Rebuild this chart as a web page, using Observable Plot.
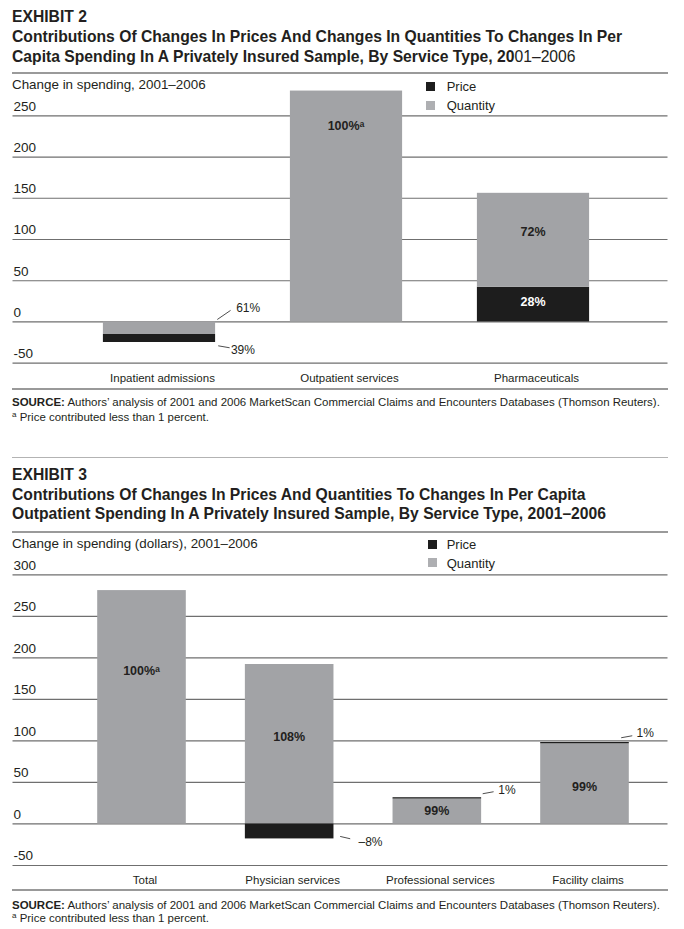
<!DOCTYPE html>
<html>
<head>
<meta charset="utf-8">
<script src="https://cdn.jsdelivr.net/npm/d3@7"></script>
<script src="https://cdn.jsdelivr.net/npm/@observablehq/plot@0.6"></script>
<style>
  body { margin: 0; background: #fff; }
  #page { position: relative; width: 684px; height: 929px; overflow: hidden;
          font-family: "Liberation Sans", Arial, sans-serif; color: #231f20; }
  .abs { position: absolute; white-space: nowrap; }
  .hr { position: absolute; left: 12px; width: 656px; }
  .sq { position: absolute; width: 9px; height: 9px; }
</style>
</head>
<body>
<div id="page"></div>
<script>
// ---------------- DATA ----------------
const ex2Categories = ["Inpatient admissions", "Outpatient services", "Pharmaceuticals"];
const ex2Price      = [-9.7, 0, 42];
const ex2Quantity   = [-15.2, 280, 114];
const ex2StackOrder = [["Quantity", "Price"], ["Quantity", "Price"], ["Price", "Quantity"]];
const ex2YTicks     = [-50, 0, 50, 100, 150, 200, 250];
const ex2InLabelCat    = [1, 2, 2];
const ex2InLabelText   = ["100%ᵃ", "72%", "28%"];
const ex2InLabelY      = [236.6, 108, 24];
const ex2InLabelSeries = ["Quantity", "Quantity", "Price"];
const ex2CalloutText = ["61%", "39%"];
const ex2CalloutX1 = [0.309, 0.314], ex2CalloutY1 = [3.0, -28.9];
const ex2CalloutX2 = [0.380, 0.375], ex2CalloutY2 = [14.0, -31.3];
const ex2CalloutTX = [0.410, 0.382], ex2CalloutTY = [17.2, -33.8];

const ex3Categories = ["Total", "Physician services", "Professional services", "Facility claims"];
const ex3Price      = [0, -18, 1.6, 1.6];
const ex3Quantity   = [281, 192, 30, 96.5];
const ex3StackOrder = [["Quantity", "Price"], ["Quantity", "Price"], ["Quantity", "Price"], ["Quantity", "Price"]];
const ex3YTicks     = [-50, 0, 50, 100, 150, 200, 250, 300];
const ex3InLabelCat    = [0, 1, 2, 3];
const ex3InLabelText   = ["100%ᵃ", "108%", "99%", "99%"];
const ex3InLabelY      = [183, 104.5, 15, 44.3];
const ex3InLabelSeries = ["Quantity", "Quantity", "Quantity", "Quantity"];
const ex3CalloutText = ["–8%", "1%", "1%"];
const ex3CalloutX1 = [1.342, 2.307, 3.245], ex3CalloutY1 = [-15.0, 36.4, 103.8];
const ex3CalloutX2 = [1.410, 2.381, 3.320], ex3CalloutY2 = [-17.8, 38.8, 106.2];
const ex3CalloutTX = [1.466, 2.413, 3.349], ex3CalloutTY = [-21.9, 40.3, 109.3];

const seriesNames = ["Price", "Quantity"];

// ---------------- STYLE ----------------
const INK = "#231f20";
const BLACK = "#1d1d1d";
const GRAY = "#a2a3a6";
const FONT = '"Liberation Sans", Arial, sans-serif';
const page = document.getElementById("page");

function measure(html, size, weight) {
  const s = document.createElement("span");
  s.style.cssText = `position:absolute;visibility:hidden;white-space:nowrap;font-size:${size}px;font-weight:${weight};`;
  s.innerHTML = html;
  page.appendChild(s);
  const w = s.getBoundingClientRect().width;
  s.remove();
  return w;
}
function addText(html, left, cy, size, weight) {
  const d = document.createElement("div");
  d.className = "abs";
  const lh = Math.round(size * 1.3);
  d.style.left = left + "px";
  d.style.top = (cy - lh / 2) + "px";
  d.style.fontSize = size + "px";
  d.style.lineHeight = lh + "px";
  d.style.fontWeight = weight || 400;
  d.innerHTML = html;
  page.appendChild(d);
  return d;
}
function addRule(y, h, color) {
  const d = document.createElement("div");
  d.className = "hr";
  d.style.top = (y - h / 2) + "px";
  d.style.height = h + "px";
  d.style.background = color;
  page.appendChild(d);
}
function addSquare(x, cy, color) {
  const d = document.createElement("div");
  d.className = "sq";
  d.style.left = x + "px";
  d.style.top = (cy - 4.5) + "px";
  d.style.background = color;
  page.appendChild(d);
}

// ---------------- TEXT SIZES ----------------
const title2a = "Contributions Of Changes In Prices And Changes In Quantities To Changes In Per";
const title2b = 'Capita Spending In A Privately Insured Sample, By Service Type, 20<span style="font-weight:400">01–2006</span>';
const title3a = "Contributions Of Changes In Prices And Quantities To Changes In Per Capita";
const title3b = "Outpatient Spending In A Privately Insured Sample, By Service Type, 2001–2006";
const sourceHtml = "<b>SOURCE:</b> Authors’ analysis of 2001 and 2006 MarketScan Commercial Claims and Encounters Databases (Thomson Reuters).";
const noteHtml = '<span style="font-size:0.7em;position:relative;top:-0.45em">a</span> Price contributed less than 1 percent.';

const titleSize = 15 * 611 / measure(title2a, 15, 700);
const sourceSize = 11 * 649 / measure(sourceHtml, 11, 400);

// ---------------- CHART ----------------
function chart(o) {
  const segs = [];
  o.cats.forEach((c, i) => {
    let pos = 0, neg = 0;
    for (const s of o.order[i]) {
      const v = s === "Price" ? o.price[i] : o.quantity[i];
      if (!v) continue;
      let y1, y2;
      if (v >= 0) { y1 = pos; pos += v; y2 = pos; }
      else { y1 = neg; neg += v; y2 = neg; }
      segs.push({i, series: s, y1, y2});
    }
  });
  const inLabels = o.inCat.map((c, k) => ({i: c, text: o.inText[k], y: o.inY[k], series: o.inSeries[k]}));
  const callouts = o.cText.map((t, k) => ({text: t, x1: o.cx1[k], y1: o.cy1[k], x2: o.cx2[k], y2: o.cy2[k], tx: o.ctx[k], ty: o.cty[k]}));
  const half = 0.3;
  const svg = Plot.plot({
    width: 684,
    height: o.height,
    marginLeft: 12.5,
    marginRight: 16.5,
    marginTop: 41.3,
    marginBottom: o.marginBottom,
    x: {domain: [0, o.cats.length - 1], range: o.rangeX},
    y: {domain: [o.ticks[0], o.ticks[o.ticks.length - 1]], axis: null},
    color: {domain: seriesNames, range: [BLACK, GRAY]},
    style: {fontFamily: FONT, color: INK, background: "none", overflow: "visible"},
    marks: [
      Plot.ruleY(o.ticks, {stroke: "#6f6f6f", strokeWidth: 1.2}),
      Plot.text(o.ticks, {y: d => d, text: d => d < 0 ? "-" + Math.abs(d) : String(d),
        frameAnchor: "left", textAnchor: "start", dx: 0.5, dy: -9.5, fontSize: 13.5, fill: INK}),
      Plot.rectY(segs, {x1: d => d.i - half, x2: d => d.i + half, y1: "y1", y2: "y2", fill: "series"}),
      Plot.axisX({ticks: d3.range(o.cats.length), tickFormat: i => o.cats[i], tickSize: 0,
        tickPadding: 10.5, fontSize: 11.5, dx: 3}),
      Plot.text(inLabels, {x: "i", y: "y", text: "text", dx: o.inDx, fontSize: 12.5, fontWeight: 700,
        fill: d => d.series === "Price" ? "#ffffff" : INK}),
      Plot.link(callouts, {x1: "x1", y1: "y1", x2: "x2", y2: "y2", stroke: "#3a3a3a", strokeWidth: 0.9}),
      Plot.text(callouts, {x: "tx", y: "ty", text: "text", textAnchor: "start", fontSize: 12, fill: INK})
    ]
  });
  svg.style.position = "absolute";
  svg.style.left = "0px";
  svg.style.top = o.top + "px";
  page.appendChild(svg);
}

// ---------------- EXHIBIT 2 ----------------
addText("EXHIBIT 2", 12, 17, titleSize, 700);
addText(title2a, 12, 37, titleSize, 700);
addText(title2b, 12, 56.5, titleSize, 700);

chart({
  cats: ex2Categories, price: ex2Price, quantity: ex2Quantity, order: ex2StackOrder,
  ticks: ex2YTicks, top: 74, height: 314, marginBottom: 25.3, rangeX: [159, 533],
  inCat: ex2InLabelCat, inText: ex2InLabelText, inY: ex2InLabelY, inSeries: ex2InLabelSeries,
  inDx: [4.5, 3, 5],
  cText: ex2CalloutText, cx1: ex2CalloutX1, cy1: ex2CalloutY1, cx2: ex2CalloutX2, cy2: ex2CalloutY2,
  ctx: ex2CalloutTX, cty: ex2CalloutTY
});

addRule(73, 2, "#9a9a9a");
addRule(389, 1.6, "#999999");
addText("Change in spending, 2001–2006", 12, 84, 13.4, 400);
addSquare(426, 86.6, BLACK);
addSquare(426, 105.3, "#aeafb2");
addText("Price", 446.7, 86.6, 13, 400);
addText("Quantity", 446.7, 105.5, 13, 400);
addText(sourceHtml, 12, 402, sourceSize, 400);
addText(noteHtml, 12, 417, sourceSize, 400);

addRule(457, 1, "#b3b3b3");

// ---------------- EXHIBIT 3 ----------------
addText("EXHIBIT 3", 12, 475, titleSize, 700);
addText(title3a, 12, 494.5, titleSize, 700);
addText(title3b, 12, 514, titleSize, 700);

chart({
  cats: ex3Categories, price: ex3Price, quantity: ex3Quantity, order: ex3StackOrder,
  ticks: ex3YTicks, top: 533, height: 356, marginBottom: 24, rangeX: [141.5, 584.5],
  inCat: ex3InLabelCat, inText: ex3InLabelText, inY: ex3InLabelY, inSeries: ex3InLabelSeries,
  inDx: [0, 8, 2, 4],
  cText: ex3CalloutText, cx1: ex3CalloutX1, cy1: ex3CalloutY1, cx2: ex3CalloutX2, cy2: ex3CalloutY2,
  ctx: ex3CalloutTX, cty: ex3CalloutTY
});

addRule(532, 2, "#9a9a9a");
addRule(890, 1.6, "#999999");
addText("Change in spending (dollars), 2001–2006", 12, 543, 13.4, 400);
addSquare(427.7, 544.3, BLACK);
addSquare(427.7, 562.5, "#aeafb2");
addText("Price", 446.7, 544.5, 13, 400);
addText("Quantity", 446.7, 563, 13, 400);
addText(sourceHtml, 12, 905, sourceSize, 400);
addText(noteHtml, 12, 918, sourceSize, 400);
</script>
</body>
</html>
